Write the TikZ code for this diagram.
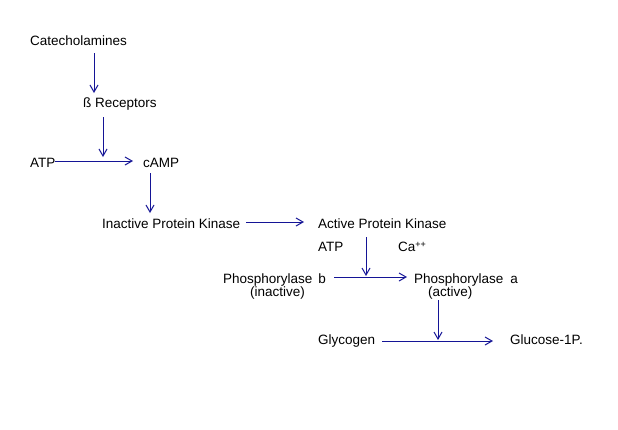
\documentclass[tikz,border=0pt]{standalone}
\usepackage{fontspec}
\setmainfont{Liberation Sans}
\usetikzlibrary{arrows.meta}
\definecolor{arrowblue}{RGB}{20,20,150}
\begin{document}
\begin{tikzpicture}[x=1pt,y=-1pt,
  lbl/.style={anchor=base west,inner sep=0pt,font=\fontsize{13.5}{16}\selectfont},
  conn/.style={draw=arrowblue,line width=1pt,-{Straight Barb[length=7pt,width=8pt,line width=1pt]}}]
\useasboundingbox[fill=white] (0,0) rectangle (618,429);
% texts
\node[lbl] (cat) at (30,45) {Catecholamines};
\node[lbl] (rec) at (83,107) {ß Receptors};
\node[lbl] (atp) at (30,167) {ATP};
\node[lbl] (camp) at (143,167) {cAMP};
\node[lbl] (ipk) at (102,228) {Inactive Protein Kinase};
\node[lbl] (apk) at (318,228) {Active Protein Kinase};
\node[lbl] (atp2) at (318,251) {ATP};
\node[lbl] (ca) at (398,251) {Ca\raisebox{0.45ex}{\fontsize{9}{10}\selectfont ++}};
\node[lbl] (phb) at (223,283) {Phosphorylase\hspace{6pt}b};
\node[lbl] (inact) at (250,296) {(inactive)};
\node[lbl] (pha) at (414,283) {Phosphorylase\hspace{7pt}a};
\node[lbl] (act) at (428,296) {(active)};
\node[lbl] (gly) at (318,344) {Glycogen};
\node[lbl] (glu) at (510,344) {Glucose-1P.};
% connector end points
\coordinate (a1s) at (94,53);   \coordinate (a1e) at (94,93);
\coordinate (a2s) at (103,117); \coordinate (a2e) at (103,157);
\coordinate (a3s) at (55,161);  \coordinate (a3e) at (133,161);
\coordinate (a4s) at (150,173); \coordinate (a4e) at (150,213);
\coordinate (a5s) at (246,222); \coordinate (a5e) at (304,222);
\coordinate (a6s) at (366,237); \coordinate (a6e) at (366,276);
\coordinate (a7s) at (334,277); \coordinate (a7e) at (407,277);
\coordinate (a8s) at (438,300); \coordinate (a8e) at (438,340);
\coordinate (a9s) at (382,341); \coordinate (a9e) at (493,341);
% connectors
\draw[conn] (a1s) -- (a1e);
\draw[conn] (a2s) -- (a2e);
\draw[conn] (a3s) -- (a3e);
\draw[conn] (a4s) -- (a4e);
\draw[conn] (a5s) -- (a5e);
\draw[conn] (a6s) -- (a6e);
\draw[conn] (a7s) -- (a7e);
\draw[conn] (a8s) -- (a8e);
\draw[conn] (a9s) -- (a9e);
\end{tikzpicture}
\end{document}
